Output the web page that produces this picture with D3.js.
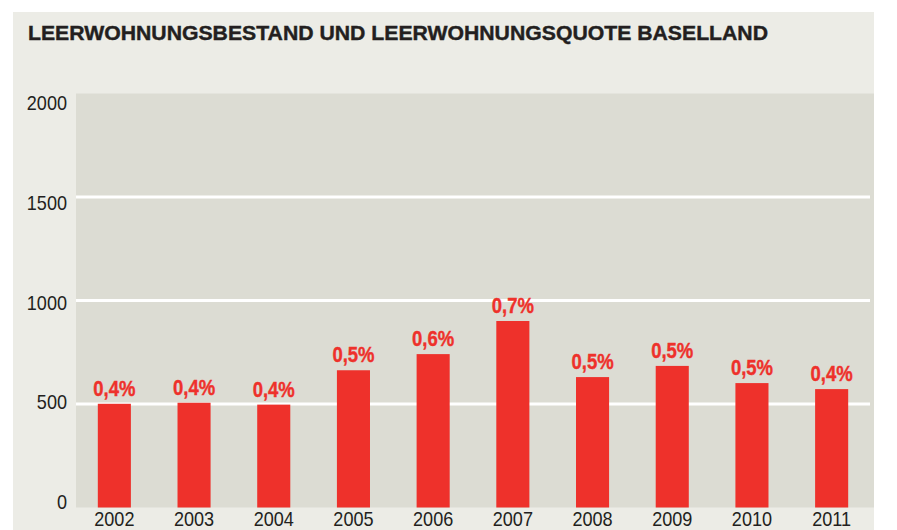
<!DOCTYPE html>
<html>
<head>
<meta charset="utf-8">
<script src="https://cdn.jsdelivr.net/npm/d3@7"></script>
<style>
  body { margin: 0; background: #fff; }
  svg { display: block; }
</style>
</head>
<body>
<svg class="leerwohnung-chart" width="897" height="530"></svg>
<script>
// Data
const years = ["2002", "2003", "2004", "2005", "2006", "2007", "2008", "2009", "2010", "2011"];
const vacantFlats = [501, 506, 497, 663, 741, 901, 630, 684, 601, 572];
const vacancyRate = ["0,4%", "0,4%", "0,4%", "0,5%", "0,6%", "0,7%", "0,5%", "0,5%", "0,5%", "0,4%"];
const yTicks = [0, 500, 1000, 1500, 2000];

const chartTitle = "LEERWOHNUNGSBESTAND UND LEERWOHNUNGSQUOTE BASELLAND";

const panelColor = "#ecece6";
const plotColor = "#dcdcd3";
const barColor = "#ee312b";
const textColor = "#231f20";
const labelFont = "'Liberation Sans', Arial, sans-serif";

// No narrow font installed -> squeeze the text horizontally instead
function condense(sel, factor) {
    sel.each(function () {
        const w = this.getComputedTextLength();
        d3.select(this)
            .attr("textLength", w * factor)
            .attr("lengthAdjust", "spacingAndGlyphs");
    });
}

const svg = d3.select(".leerwohnung-chart");

// Outer panel
svg.append("rect")
    .attr("x", 13).attr("y", 12)
    .attr("width", 861).attr("height", 530 - 12)
    .attr("fill", panelColor);

// Title
svg.append("text")
    .text(chartTitle)
    .attr("x", 28).attr("y", 40)
    .attr("fill", textColor)
    .attr("stroke", textColor)
    .attr("stroke-width", 0.4)
    .attr("font-family", labelFont)
    .attr("font-weight", "bold")
    .attr("font-size", 20)
    .attr("textLength", 740)
    .attr("lengthAdjust", "spacingAndGlyphs");

// Plot area
const plot = { left: 76, right: 874, top: 93.5, bottom: 507.5 };

const x = d3.scaleBand()
    .domain(years)
    .range([74.5, 871.5])
    .paddingInner(0.585)
    .paddingOuter(0.2925);

const y = d3.scaleLinear()
    .domain([0, 2000])
    .range([plot.bottom, plot.top]);

// tick labels sit slightly off the lines in the original
const yLabel = d3.scaleLinear()
    .domain([0, 2000])
    .range([509, 110]);

svg.append("rect")
    .attr("x", plot.left).attr("y", plot.top)
    .attr("width", plot.right - plot.left)
    .attr("height", plot.bottom - plot.top)
    .attr("fill", plotColor);

// Grid lines (white)
svg.append("g")
    .selectAll("line")
    .data(yTicks.filter(d => d > 0 && d < 2000))
    .enter()
    .append("line")
    .attr("x1", plot.left).attr("x2", 870)
    .attr("y1", d => y(d)).attr("y2", d => y(d))
    .attr("stroke", "#fff")
    .attr("stroke-width", 3);

// Y tick labels
svg.append("g")
    .selectAll("text")
    .data(yTicks)
    .enter()
    .append("text")
    .text(d => d)
    .attr("x", 67)
    .attr("y", d => yLabel(d))
    .attr("text-anchor", "end")
    .attr("fill", textColor)
    .attr("font-family", labelFont)
    .attr("font-size", 21)
    .call(condense, 0.86);

// Bars
const data = years.map((yr, i) => ({ year: yr, value: vacantFlats[i], rate: vacancyRate[i] }));

svg.append("g")
    .selectAll("rect")
    .data(data)
    .enter()
    .append("rect")
    .attr("x", d => x(d.year))
    .attr("width", x.bandwidth())
    .attr("y", d => y(d.value))
    .attr("height", d => y(0) - y(d.value))
    .attr("fill", barColor);

// Rate labels above bars
svg.append("g")
    .selectAll("text")
    .data(data)
    .enter()
    .append("text")
    .text(d => d.rate)
    .attr("x", d => x(d.year) + x.bandwidth() / 2)
    .attr("y", d => y(d.value) - 8)
    .attr("text-anchor", "middle")
    .attr("fill", barColor)
    .attr("stroke", barColor)
    .attr("stroke-width", 0.4)
    .attr("font-family", labelFont)
    .attr("font-weight", "bold")
    .attr("font-size", 22)
    .call(condense, 0.84);

// Year labels
svg.append("g")
    .selectAll("text")
    .data(years)
    .enter()
    .append("text")
    .text(d => d)
    .attr("x", d => x(d) + x.bandwidth() / 2)
    .attr("y", 526)
    .attr("text-anchor", "middle")
    .attr("fill", textColor)
    .attr("font-family", labelFont)
    .attr("font-size", 21)
    .call(condense, 0.86);
</script>
</body>
</html>
